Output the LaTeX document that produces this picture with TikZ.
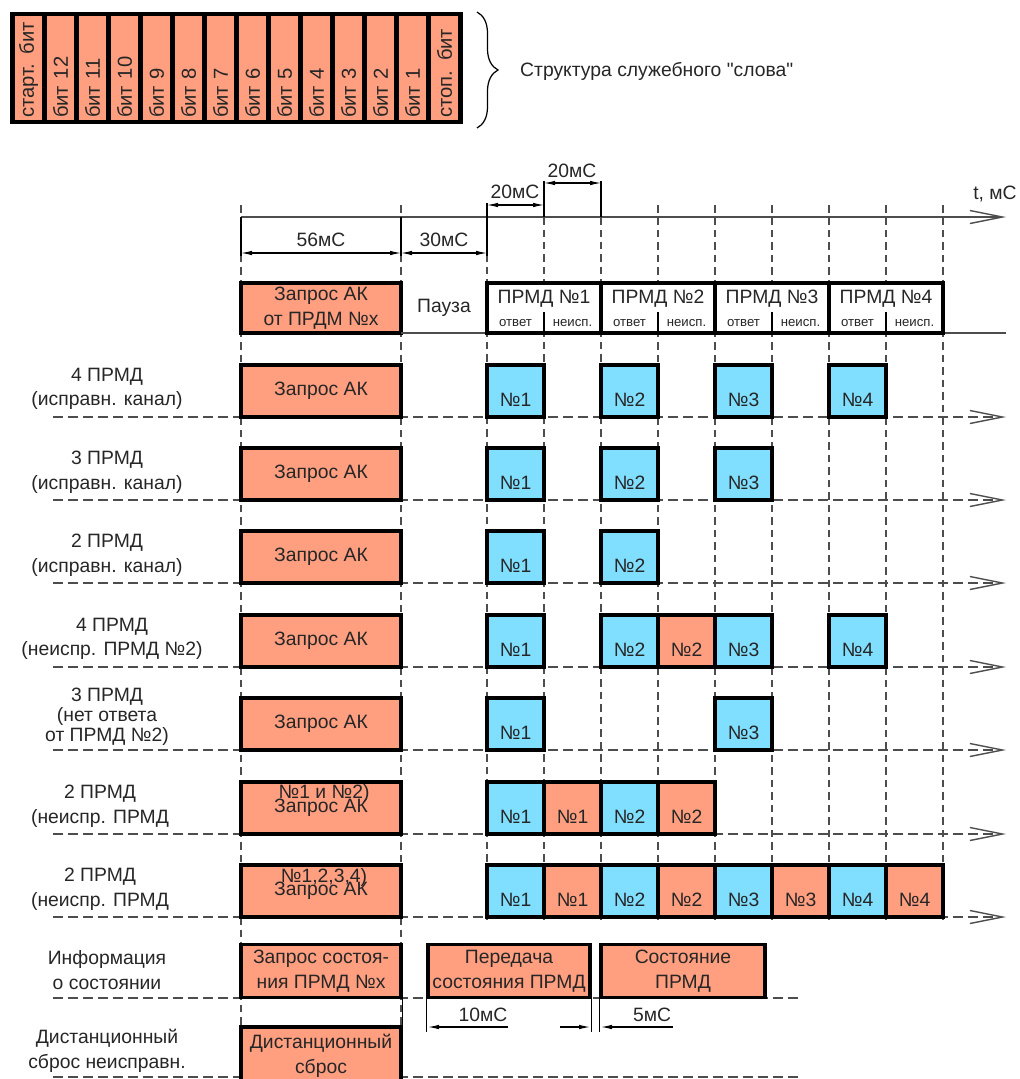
\documentclass[tikz,border=0pt]{standalone}
\usepackage{fontspec}
\setmainfont{Liberation Sans}
\usetikzlibrary{arrows.meta, positioning, decorations.pathreplacing}
\definecolor{boxSalmon}{HTML}{FF9F80}
\definecolor{boxBlue}{HTML}{80DEFF}
\definecolor{lineGray}{HTML}{4D4D4D}

\begin{document}
\begin{tikzpicture}[
    x=0.02cm, y=-0.02cm,
    txt/.style={font=\fontsize{11}{14}\selectfont, text=black!85},
    bitcell/.style={fill=boxSalmon, rotate=90, minimum width=2.04cm, minimum height=0.54cm, inner sep=1.2pt, text width=2cm, align=left, font=\fontsize{11.5}{12}\selectfont, text=black!85},
    reqbox/.style={draw, line width=2.2pt, fill=boxSalmon, minimum width=3.2cm, minimum height=1.04cm, inner sep=0pt, align=center, txt},
    ansbox/.style={draw, line width=2.2pt, fill=boxBlue, minimum width=1.14cm, minimum height=1.04cm, inner sep=0pt, text height=0.62cm, text depth=0pt, txt},
    errbox/.style={ansbox, fill=boxSalmon},
    hdrbox/.style={draw, line width=2.2pt, fill=white, minimum width=2.28cm, minimum height=1cm, inner sep=0pt, align=center, txt},
    rowlabel/.style={align=center, txt},
    gridline/.style={lineGray, line width=0.6pt, dash pattern=on 1.5mm off 1mm},
    rowline/.style={lineGray, line width=0.8pt, dash pattern=on 2mm off 1mm},
    openarrow/.style={-{Straight Barb[length=6.5mm, width=2.6mm]}},
    dimline/.style={line width=0.6pt, {Latex[length=2.2mm, width=0.9mm]}-{Latex[length=2.2mm, width=0.9mm]}},
    dimtip/.style={line width=0.6pt, -{Latex[length=2.2mm, width=0.9mm]}},
]
    \clip (0,0) rectangle (1019,1079);

    \node[fill=black, minimum width=9.06cm, minimum height=2.24cm, inner sep=0pt] (word) at (236.5,68) {};
    \foreach \i/\bitname in {0/старт. бит, 1/бит 12, 2/бит 11, 3/бит 10, 4/бит 9, 5/бит 8, 6/бит 7, 7/бит 6, 8/бит 5, 9/бит 4, 10/бит 3, 11/бит 2, 12/бит 1, 13/стоп. бит}
        \node[bitcell] (bit\i) at (28.5+32*\i,68) {\bitname};
    \draw[decorate, decoration={brace, amplitude=0.42cm}, line width=0.7pt] (477,12) -- (477,128);
    \node[txt, anchor=west] (wordlbl) at (514,71) {Структура служебного \textquotedbl слова\textquotedbl};

    \foreach \x in {241,401} \draw[gridline] (\x,205) -- (\x,1027);
    \foreach \x in {658,715,772,829,886,943} \draw[gridline] (\x,205) -- (\x,920);
    \foreach \x in {487,544,601} \draw[gridline] (\x,217) -- (\x,920);
    \foreach \y in {417,500,583,667,750,834,917} \draw[rowline, openarrow] (53,\y) -- (1006,\y);
    \draw[rowline] (53,998) -- (800,998);
    \draw[rowline] (53,1077) -- (800,1077);

    \draw[lineGray, line width=0.8pt, openarrow] (241,217) -- (1006,217);
    \node[txt] (tlbl) at (995,194) {t, мС};
    \draw[line width=0.6pt] (241,217) -- (241,256) (401,217) -- (401,256) (487,203) -- (487,256)
        (544,181) -- (544,217) (601,181) -- (601,217);
    \draw[dimline] (241,253) -- (401,253);
    \draw[dimline] (401,253) -- (487,253);
    \draw[dimline] (487,205) -- (544,205);
    \draw[dimline] (544,183) -- (601,183);
    \node[txt] (d56) at (321,240) {56мС};
    \node[txt] (d30) at (444,240) {30мС};
    \node[txt] (d20a) at (515,192) {20мС};
    \node[txt] (d20b) at (572,171) {20мС};

    \node[reqbox, minimum height=1cm] (req) at (321,308) {Запрос АК\\от ПРДМ №x};
    \node[txt] (pause) at (444,308) {Пауза};
    \draw[lineGray, line width=0.8pt] (401,333) -- (1006,333);
    \foreach \k/\x in {1/544, 2/658, 3/772, 4/886} {
        \node[hdrbox] (h\k) at (\x,308) {ПРМД №\k\\[-1pt]{\fontsize{7.5}{8}\selectfont\makebox[1.14cm]{ответ}\makebox[1.14cm]{неисп.}}};
        \draw[line width=0.6pt] (h\k.south) -- ++(0,-23);
    }

    \node[rowlabel] (l1) at (107,389) {4 ПРМД\\(исправн. канал)};
    \node[rowlabel] (l2) at (107,472) {3 ПРМД\\(исправн. канал)};
    \node[rowlabel] (l3) at (107,555) {2 ПРМД\\(исправн. канал)};
    \node[rowlabel] (l4) at (112,639) {4 ПРМД\\(неиспр. ПРМД №2)};
    \node[rowlabel] (l5) at (107,717) {3 ПРМД\\[-2.5pt](нет ответа\\[-2.5pt]от ПРМД №2)};
    \node[rowlabel] (l6) at (100,806) {2 ПРМД\\(неиспр. ПРМД};
    \node[rowlabel] (l7) at (100,889) {2 ПРМД\\(неиспр. ПРМД};

    \node[reqbox] (q1) at (321,391) {Запрос АК};
    \node[reqbox] (q2) at (321,474) {Запрос АК};
    \node[reqbox] (q3) at (321,557) {Запрос АК};
    \node[reqbox] (q4) at (321,641) {Запрос АК};
    \node[reqbox] (q5) at (321,724) {Запрос АК};
    \node[reqbox] (q6) at (321,808) {Запрос АК};
    \node[reqbox] (q7) at (321,891) {Запрос АК};
    \node[txt] (q6x) at (324,793) {№1 и №2)};
    \node[txt] (q7x) at (324,877) {№1,2,3,4)};

    \node[ansbox] (a11) at (515.5,391) {№1};
    \node[ansbox] (a12) at (629.5,391) {№2};
    \node[ansbox] (a13) at (743.5,391) {№3};
    \node[ansbox] (a14) at (857.5,391) {№4};
    \node[ansbox] (a21) at (515.5,474) {№1};
    \node[ansbox] (a22) at (629.5,474) {№2};
    \node[ansbox] (a23) at (743.5,474) {№3};
    \node[ansbox] (a31) at (515.5,557) {№1};
    \node[ansbox] (a32) at (629.5,557) {№2};
    \node[ansbox] (a41) at (515.5,641) {№1};
    \node[ansbox] (a42) at (629.5,641) {№2};
    \node[errbox] (e42) at (686.5,641) {№2};
    \node[ansbox] (a43) at (743.5,641) {№3};
    \node[ansbox] (a44) at (857.5,641) {№4};
    \node[ansbox] (a51) at (515.5,724) {№1};
    \node[ansbox] (a53) at (743.5,724) {№3};
    \node[ansbox] (a61) at (515.5,808) {№1};
    \node[errbox] (e61) at (572.5,808) {№1};
    \node[ansbox] (a62) at (629.5,808) {№2};
    \node[errbox] (e62) at (686.5,808) {№2};
    \foreach \k in {1,...,4} {
        \node[ansbox] (a7\k) at (515.5+114*\k-114,891) {№\k};
        \node[errbox] (e7\k) at (572.5+114*\k-114,891) {№\k};
    }

    \node[rowlabel] (l8) at (107,970) {Информация\\о состоянии};
    \node[reqbox, minimum height=1.06cm] (inf1) at (321,971) {Запрос состоя-\\ния ПРМД №x};
    \node[reqbox, minimum width=3.24cm, minimum height=1.06cm] (inf2) at (509,971) {Передача\\состояния ПРМД};
    \node[reqbox, minimum width=3.28cm, minimum height=1.06cm] (inf3) at (683,971) {Состояние\\ПРМД};
    \node[rowlabel] (l9) at (107,1051) {Дистанционный\\сброс неисправн.};
    \node[reqbox, minimum height=1.16cm] (rst) at (321,1056) {Дистанционный\\сброс};

    \draw[line width=0.6pt] (inf1.south east) -- ++(0,33) (inf2.south west) -- ++(0,33)
        (inf2.south east) -- ++(0,33) (inf3.south west) -- ++(0,33);
    \draw[dimtip] (380,1027) -- (401,1027);
    \draw[dimtip] (508,1027) -- (428,1027);
    \draw[dimtip] (560,1027) -- (590,1027);
    \draw[dimtip] (673,1027) -- (601,1027);
    \node[txt] (d10) at (483,1015) {10мС};
    \node[txt] (d5) at (652,1015) {5мС};
\end{tikzpicture}
\end{document}
